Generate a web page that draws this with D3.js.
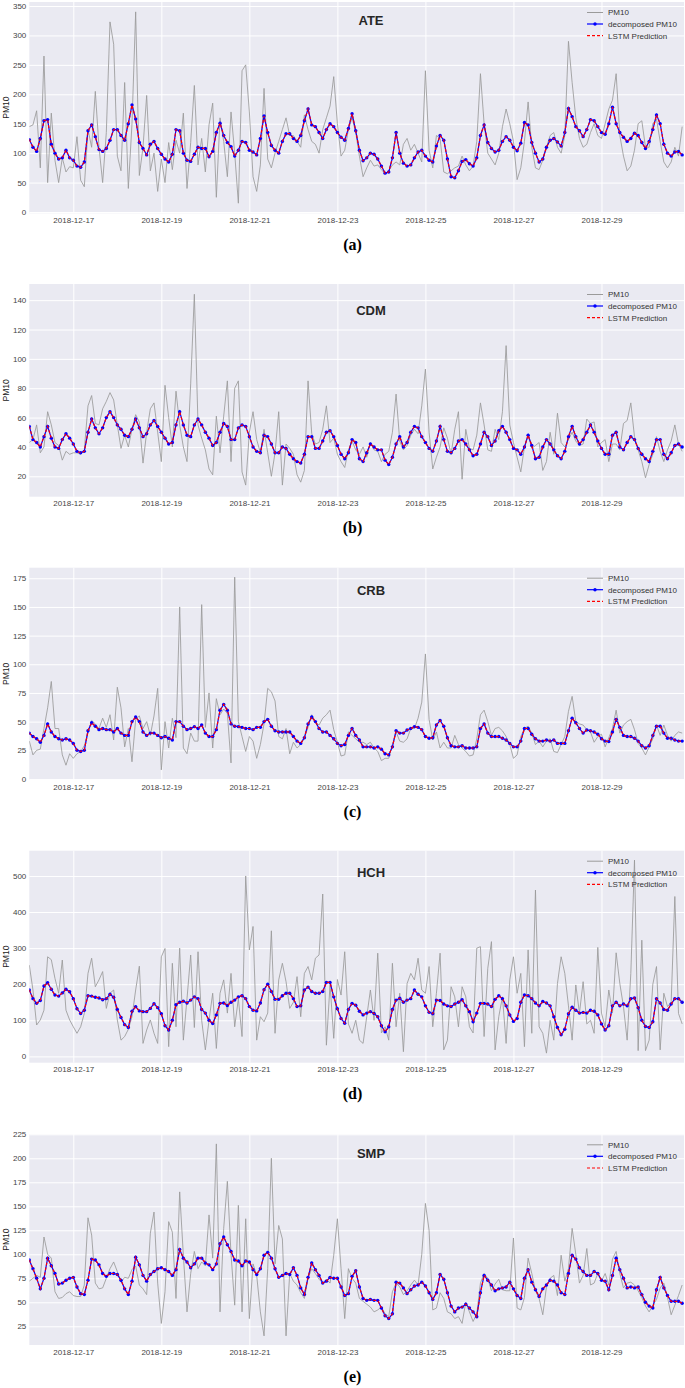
<!DOCTYPE html>
<html>
<head>
<meta charset="utf-8">
<script src="https://cdn.jsdelivr.net/npm/d3@7"></script>
<style>
    body { margin: 0; background: #fff; }
    text { font-family: "Liberation Sans", Arial, sans-serif; }
    text.letter { font-family: "Liberation Serif", "Times New Roman", serif; }
</style>
</head>
<body>
<svg id="chart" width="685" height="1388"></svg>
<script>
// tick labels
var dayTicks = ["2018-12-17", "2018-12-19", "2018-12-21", "2018-12-23", "2018-12-25", "2018-12-27", "2018-12-29"];
var stations = ["ATE", "CDM", "CRB", "HCH", "SMP"];
var panelLetters = ["(a)", "(b)", "(c)", "(d)", "(e)"];
var yTicksATE = [0, 50, 100, 150, 200, 250, 300, 350];
var yTicksCDM = [20, 40, 60, 80, 100, 120, 140];
var yTicksCRB = [0, 25, 50, 75, 100, 125, 150, 175];
var yTicksHCH = [0, 100, 200, 300, 400, 500];
var yTicksSMP = [25, 50, 75, 100, 125, 150, 175, 200, 225];
var legendLabels = ["PM10", "decomposed PM10", "LSTM Prediction"];

// series, one value every 2 hours from 2018-12-16 00:00
var ateRaw = [145,148,172,75,265,50,168,88,50,92,68,77,
    75,128,54,43,140,110,205,110,50,135,323,285,
    95,70,220,40,150,340,62,110,198,70,100,35,
    90,50,118,72,122,100,168,40,118,215,80,125,
    68,148,185,25,160,120,60,170,100,15,240,250,
    170,60,35,80,210,90,75,100,120,140,160,130,
    130,120,110,165,140,120,115,100,140,160,180,230,
    150,95,105,140,160,135,95,60,75,88,78,80,
    72,65,70,80,85,80,115,125,105,115,100,85,
    240,105,75,130,125,68,65,70,75,78,95,80,
    70,78,120,235,150,100,90,80,100,145,175,150,
    120,55,75,120,187,110,75,72,88,110,130,135,
    110,100,130,290,220,160,125,110,115,135,150,130,
    125,150,175,190,235,130,95,70,78,105,150,155,
    110,110,150,158,120,85,75,85,110,95,145];
var ateDecomposed = [123,110,103,125,155,157,115,100,90,92,105,92,
    88,78,76,85,138,148,128,106,103,108,122,140,
    140,130,122,150,182,158,118,108,97,115,120,108,
    98,90,85,98,140,138,100,88,86,98,110,108,
    108,94,103,135,151,130,118,111,95,105,120,118,
    105,102,97,125,163,135,113,105,100,120,133,133,
    125,120,130,155,175,148,145,135,125,140,150,145,
    135,127,122,142,167,138,105,87,92,100,98,90,
    78,66,68,92,135,100,83,78,80,92,102,105,
    95,88,85,112,130,122,90,60,58,70,86,89,
    82,78,92,130,148,118,108,102,105,120,128,122,
    110,104,117,152,148,118,100,85,90,110,122,125,
    119,112,135,176,162,145,138,128,140,157,155,145,
    135,132,150,178,150,135,127,120,125,134,130,118,
    108,120,140,165,150,115,100,95,102,103,97];
// the prediction lies on the decomposed series all the way through
var ateLstm = ateDecomposed;

var cdmRaw = [43,45,55,36,40,64,55,43,41,31,37,35,
    36,36,35,38,68,75,56,55,66,71,77,72,
    55,39,48,40,52,62,57,29,50,66,70,50,
    30,82,60,40,78,55,40,30,83,144,55,46,
    38,25,21,61,36,61,85,30,80,85,23,14,
    50,64,45,36,52,36,20,36,64,14,42,39,
    35,21,16,24,85,49,42,43,52,68,43,46,
    35,
    30,26,38,44,38,35,40,33,43,38,37,30,35,37,50,76,44,38,41,48,
    52,49,68,93,50,25,33,40,53,46,35,52,64,18,52,39,38,48,70,55,
    38,37,52,45,64,109,55,43,33,23,40,48,39,41,43,24,30,50,35,63,
    43,40,45,50,44,41,42,59,56,57,40,43,45,30,42,42,38,56,58,70,
    47,38,30,19,28,35,47,37,30,38,44,55,42,37];
var cdmDecomposed = [54,45,43,40,47,54,46,40,39,45,49,46,
    42,37,36,37,50,59,53,49,53,60,64,60,
    55,52,48,47,52,59,53,47,49,55,58,54,
    50,46,42,43,55,64,55,48,47,55,59,55,
    50,46,41,43,50,56,54,45,45,53,55,54,
    47,40,37,36,48,47,42,36,36,40,39,35,
    32,30,29,35,47,47,39,39,44,50,51,47,
    41,
    35,32,36,45,43,32,30,36,42,40,38,38,31,28,33,42,47,40,43,50,
    54,53,47,43,39,37,44,54,45,37,36,39,44,45,42,38,34,35,42,50,
    47,41,44,51,54,50,45,39,38,35,40,48,41,32,33,40,45,42,38,34,
    32,37,47,54,47,42,45,50,55,50,44,39,35,35,48,50,40,38,43,47,
    45,39,35,32,30,37,45,45,35,32,36,41,42,40];
var cdmLstm = cdmDecomposed;

var crbRaw = [33,21,25,26,44,62,85,44,44,21,12,22,
    18,22,24,29,40,51,48,44,53,45,56,34,
    80,62,28,44,15,52,55,44,50,38,55,79,
    8,50,27,53,36,150,27,22,40,33,33,152,
    45,75,27,70,56,61,57,14,176,50,37,24,
    37,33,18,30,48,79,76,68,37,35,44,22,
    32,27,30,36,45,56,50,47,53,56,60,43,
    32,
    20,21,41,38,35,32,32,30,32,27,24,16,18,18,30,41,33,32,35,44,
    44,53,67,109,52,34,41,27,32,27,27,38,30,27,24,20,21,35,56,60,
    50,38,44,45,42,37,30,18,21,37,44,46,40,30,33,28,33,35,24,23,
    30,37,59,72,50,48,47,43,41,32,37,39,28,36,44,60,40,47,50,52,
    43,31,27,21,28,35,47,38,47,38,33,38,41,40];
var crbDecomposed = [40,37,35,32,38,48,41,37,35,34,35,34,
    31,25,24,25,42,49,46,43,44,43,43,41,
    44,40,38,38,50,54,50,41,38,40,40,38,
    36,37,35.5,34,50,50,46,43,44,45.6,44,47,
    40,37,37,43,60,65,60,48,46,45.6,45,44,
    44,43,45,45,50,52,46,42,41,41,41,41,
    37,33,31,36,48,54,50,44,41,41,38,35,
    31,
    29,30,38,44,38,34,28,28,28,27,28,26,22,21,28,42,40,40,42.7,44,
    45.6,45,43,37,35.5,36,47,51,46,36,29,28,28,29,27,27,27,28,44,48,
    40,37,37,37,35.5,34,31,28,28,33,44,44,39,35,33,33,34,33,34,31,
    31,31,42,53,49,44,40,42.7,42,41,39,35,33,32.6,41,52,45,38,37,37,
    35.5,33,29,27,29,38,46,46,40,35.5,35.5,34,33,33];
var crbLstm = crbDecomposed;

var hchRaw = [253,184,87,101,128,276,268,216,175,267,128,101,
    82,64,82,119,230,272,193,212,235,133,175,184,
    101,45,55,75,110,184,250,36,73,101,64,36,
    276,299,27,258,82,300,45,160,281,80,290,100,
    18,100,175,22,175,212,120,230,82,160,55,500,
    295,360,45,110,96,120,348,64,212,258,207,133,
    150,221,110,230,249,212,272,281,450,31,200,50,
    213,
    170,290,90,64,100,45,36,110,184,100,286,65,82,45,258,82,175,13,202,230,
    212,272,184,175,249,82,175,286,18,45,193,165,82,193,165,82,65,300,304,55,
    244,318,18,110,165,36,212,276,175,230,27,295,64,461,82,64,9,100,45,202,
    276,230,140,45,198,120,207,90,100,64,302,120,82,184,120,287,202,138,45,230,
    544,16,322,16,45,200,249,18,175,138,150,443,119,90];
var hchDecomposed = [184,160,147,155,195,204,186,170,167,176,186,179,
    160,132,119,128,168,167,164,162,157,160,172,164,
    130,108,88,80,125,138,126,124,124,133,146,135,
    118,85,73,100,143,150,153,148,156,165,160,130,
    120,100,91,115,147,148,141,150,156,165,168,160,
    138,128,126,148,185,200,180,158,158,168,175,175,
    160,138,140,184,192,180,175,175,180,205,205,165,
    132,
    105,92,130,147,142,125,115,120,124,119,110,85,68,82,130,156,161,150,156,160,
    184,172,165,140,122,118,156,155,145,140,138,145,150,157,140,124,96,120,147,147,
    145,138,158,168,160,140,115,97,105,150,170,168,160,148,140,152,148,140,110,80,
    60,75,118,136,128,120,122,120,128,125,115,90,73,85,140,150,140,145,140,160,
    162,135,100,83,80,96,160,148,130,128,145,160,160,150];
var hchLstm = hchDecomposed;

var smpRaw = [72,75,78,76,118,100,96,61,54,55,59,61,
    57,56,56,68,138,120,70,64,65,75,85,92,
    82,71,76,75,84,88,68,64,58,122,144,70,
    28,61,134,123,54,165,99,40,80,103,85,92,
    88,141,96,215,40,127,176,100,47,151,40,137,
    33,90,78,40,15,85,200,90,130,116,15,80,
    72,68,60,54,75,85,80,74,70,74,70,99,
    137,
    85,33,85,75,70,54,51,48,45,40,42,45,38,35,61,70,66,58,62,68,
    73,68,100,153,125,42,44,60,54,40,38,33,35,28,50,40,30,38,70,80,
    75,62,69,74,63,62,62,117,44,42,55,96,80,62,54,37,66,75,78,57,
    99,72,85,127,100,70,78,106,68,70,80,72,80,68,95,103,80,65,70,71,
    68,62,55,46,40,47,53,65,70,55,37,47,57,68];
var smpDecomposed = [94,85,75,64,75,96,88,80,69,70,73,75,
    76,66,59,58,73,95,94,89,80,77,80,80,
    79,73,64,58,72,97,89,78,72,79,82,85,
    86,84,82,78,84,105,96,92,86,90,96,96,
    91,89,84,90,111,118,110,103,94,93,88,93,
    92,84,79,85,99,102,96,85,76,78,80,79,
    86,78,65,58,76,91,84,78,70,72,76,75,
    75,
    66,57,59,77,83,66,54,52,53,52,52,44,36,33,38,71,70,65,59,63,
    67,68,71,67,60,53,60,79,74,60,46,40,44,45,48,44,40,35,60,78,
    73,68,62,64,65,66,71,64,57,54,75,84,71,63,56,64,68,73,72,68,
    60,58,80,99,95,86,82,78,78,82,80,73,72,63,78,96,84,75,65,66,
    65,66,58,50,46,44,63,76,65,57,51,51,51,49];
var smpLstm = smpDecomposed;

var series = [
    { raw: ateRaw, dec: ateDecomposed, lstm: ateLstm, yTicks: yTicksATE },
    { raw: cdmRaw, dec: cdmDecomposed, lstm: cdmLstm, yTicks: yTicksCDM },
    { raw: crbRaw, dec: crbDecomposed, lstm: crbLstm, yTicks: yTicksCRB },
    { raw: hchRaw, dec: hchDecomposed, lstm: hchLstm, yTicks: yTicksHCH },
    { raw: smpRaw, dec: smpDecomposed, lstm: smpLstm, yTicks: yTicksSMP }
];

// panel placement on the page
var layout = [
    { top: 2, bottom: 213.3, yMin: -2.2, yMax: 356.8, titleY: 24.5 },
    { top: 284, bottom: 496.7, yMin: 6.1, yMax: 151, titleY: 314.5 },
    { top: 567.7, bottom: 780, yMin: -0.9, yMax: 184.2, titleY: 594.5 },
    { top: 850.7, bottom: 1062.7, yMin: -17.5, yMax: 570, titleY: 876.5 },
    { top: 1134.3, bottom: 1345, yMin: 5.5, yMax: 225, titleY: 1157.5 }
];

var left = 29.3, right = 684;
var start = new Date(2018, 11, 16, 0);
var end = new Date(2018, 11, 30, 21);
var parseDay = d3.timeParse("%Y-%m-%d");
var fmtDay = d3.timeFormat("%Y-%m-%d");
var rawColor = "#9a9a9a";

var x = d3.scaleTime().domain([start, end]).range([left, right]);

var timeOf = function(i) {
    return new Date(start.getTime() + i * 2 * 3600 * 1000);
};

var svg = d3.select("#chart");

series.forEach(function(s, k) {
    var L = layout[k];
    var y = d3.scaleLinear().domain([L.yMin, L.yMax]).range([L.bottom, L.top]);
    var panel = svg.append("g");

    panel.append("rect")
        .attr("x", left)
        .attr("y", L.top)
        .attr("width", right - left)
        .attr("height", L.bottom - L.top)
        .attr("fill", "#eaeaf2");

    panel.append("clipPath")
        .attr("id", "clip" + k)
        .append("rect")
        .attr("x", left)
        .attr("y", L.top)
        .attr("width", right - left)
        .attr("height", L.bottom - L.top);

    // grid
    var xGrid = d3.axisBottom(x)
        .tickValues(dayTicks.map(parseDay))
        .tickSize(-(L.bottom - L.top))
        .tickFormat("");
    panel.append("g")
        .attr("transform", "translate(0," + L.bottom + ")")
        .call(xGrid)
        .call(function(g) { g.select(".domain").remove(); })
        .selectAll("line")
        .attr("stroke", "#fff")
        .attr("stroke-width", 1);

    var yGrid = d3.axisLeft(y)
        .tickValues(s.yTicks)
        .tickSize(-(right - left))
        .tickFormat("");
    panel.append("g")
        .attr("transform", "translate(" + left + ",0)")
        .call(yGrid)
        .call(function(g) { g.select(".domain").remove(); })
        .selectAll("line")
        .attr("stroke", "#fff")
        .attr("stroke-width", 1);

    // tick labels
    var xAxis = d3.axisBottom(x)
        .tickValues(dayTicks.map(parseDay))
        .tickSize(0)
        .tickPadding(4)
        .tickFormat(fmtDay);
    panel.append("g")
        .attr("transform", "translate(0," + L.bottom + ")")
        .call(xAxis)
        .call(function(g) { g.select(".domain").remove(); })
        .selectAll("text")
        .style("font-family", "Liberation Sans, Arial, sans-serif")
        .attr("font-size", "8px")
        .attr("fill", "#444");

    var yAxis = d3.axisLeft(y)
        .tickValues(s.yTicks)
        .tickSize(0)
        .tickPadding(3);
    panel.append("g")
        .attr("transform", "translate(" + left + ",0)")
        .call(yAxis)
        .call(function(g) { g.select(".domain").remove(); })
        .selectAll("text")
        .style("font-family", "Liberation Sans, Arial, sans-serif")
        .attr("font-size", "8px")
        .attr("fill", "#444");

    panel.append("text")
        .text("PM10")
        .attr("font-size", "8.5px")
        .attr("fill", "#222")
        .attr("text-anchor", "middle")
        .attr("transform", "translate(8.5," + ((L.top + L.bottom) / 2) + ") rotate(-90)");

    // lines
    var plot = panel.append("g").attr("clip-path", "url(#clip" + k + ")");

    var line = d3.line()
        .x(function(d, i) { return x(timeOf(i)); })
        .y(function(d) { return y(d); });

    plot.append("path")
        .datum(s.raw)
        .attr("d", line)
        .attr("fill", "none")
        .attr("stroke", rawColor)
        .attr("stroke-opacity", 0.85)
        .attr("stroke-width", 1);

    plot.append("path")
        .datum(s.dec)
        .attr("d", line)
        .attr("fill", "none")
        .attr("stroke", "#0000ff")
        .attr("stroke-width", 1.2);

    plot.selectAll(".dot")
        .data(s.dec)
        .enter().append("circle")
        .attr("class", "dot")
        .attr("cx", function(d, i) { return x(timeOf(i)); })
        .attr("cy", function(d) { return y(d); })
        .attr("r", 1.7)
        .attr("fill", "#0000ff");

    plot.append("path")
        .datum(s.lstm)
        .attr("d", line)
        .attr("fill", "none")
        .attr("stroke", "#ff0000")
        .attr("stroke-width", 1.2)
        .attr("stroke-dasharray", "3,2");

    // title
    panel.append("text")
        .text(stations[k])
        .attr("x", 371)
        .attr("y", L.titleY)
        .attr("text-anchor", "middle")
        .attr("font-size", "13px")
        .attr("font-weight", "bold")
        .attr("fill", "#262626");

    // legend
    var legend = panel.append("g");
    var rows = [10.5, 22, 33.7];
    legendLabels.forEach(function(label, j) {
        var ly = L.top + rows[j];
        var ln = legend.append("line")
            .attr("x1", 587)
            .attr("x2", 603)
            .attr("y1", ly)
            .attr("y2", ly);
        if (j === 0) {
            ln.attr("stroke", rawColor).attr("stroke-width", 1);
        } else if (j === 1) {
            ln.attr("stroke", "#0000ff").attr("stroke-width", 1.2);
            legend.append("circle")
                .attr("cx", 595)
                .attr("cy", ly)
                .attr("r", 1.7)
                .attr("fill", "#0000ff");
        } else {
            ln.attr("stroke", "#ff0000").attr("stroke-width", 1.2).attr("stroke-dasharray", "3,2");
        }
        legend.append("text")
            .text(label)
            .attr("x", 608)
            .attr("y", ly)
            .attr("dy", "0.35em")
            .attr("font-size", "8px")
            .attr("fill", "#333");
    });

    // sub-figure letter
    svg.append("text")
        .attr("class", "letter")
        .text(panelLetters[k])
        .attr("x", 352.5)
        .attr("y", L.bottom + 36.5)
        .attr("text-anchor", "middle")
        .attr("font-weight", "bold")
        .attr("font-size", "16px")
        .attr("fill", "#000");
});
</script>
</body>
</html>
